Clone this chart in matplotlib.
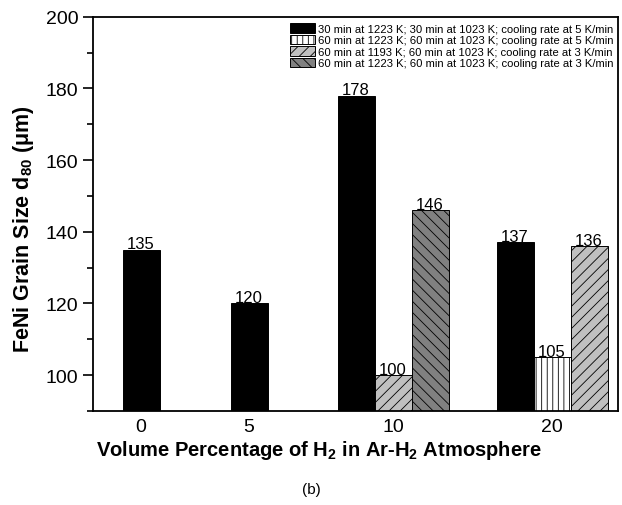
import matplotlib
matplotlib.use('Agg')
import matplotlib.pyplot as plt
from matplotlib.ticker import MultipleLocator

plt.rcParams['font.family'] = ['Liberation Sans', 'DejaVu Sans']
plt.rcParams['mathtext.default'] = 'regular'
plt.rcParams['hatch.linewidth'] = 0.6

# data
categories = ['0', '5', '10', '20']
series_labels = [
    "30 min at 1223 K; 30 min at 1023 K; cooling rate at 5 K/min",
    "60 min at 1223 K; 60 min at 1023 K; cooling rate at 5 K/min",
    "60 min at 1193 K; 60 min at 1023 K; cooling rate at 3 K/min",
    "60 min at 1223 K; 60 min at 1023 K; cooling rate at 3 K/min",
]
# one list per series, None where no bar
s1 = [135, 120, 178, 137]
s2 = [None, None, None, 105]
s3 = [None, None, 100, 136]
s4 = [None, None, 146, None]

# styles
colors = ['black', 'white', '#c0c0c0', '#808080']
hatches = ['', '|||', '///', '\\\\\\']

# layout: tick centres (bar width = 1) and in-group offsets
tick_pos = [0, 2.92, 6.81, 11.11]
offsets = {0: [0, 0, 0, 0], 1: [0, 0, 0, 0], 2: [-1, 0, 0, 1], 3: [-1, 0, 1, 0]}

fig = plt.figure(figsize=(6.22, 5.06), dpi=100)
ax = fig.add_axes([0.1495, 0.186, 0.844, 0.779])

all_series = [s1, s2, s3, s4]
handles = []
for k, s in enumerate(all_series):
    xs, ys = [], []
    for i, v in enumerate(s):
        if v is None:
            continue
        xs.append(tick_pos[i] + offsets[i][k])
        ys.append(v)
    bars = ax.bar(xs, ys, width=1.0, color=colors[k], hatch=hatches[k],
                  edgecolor='black', linewidth=0.7, label=series_labels[k])
    handles.append(bars)
    for x, y in zip(xs, ys):
        ax.text(x, y - 0.5, str(y), ha='center', va='bottom', fontsize=12)

ax.set_xlim(-1.30, 12.89)
ax.set_ylim(90, 200)
ax.set_xticks(tick_pos)
ax.set_xticklabels(categories)
ax.yaxis.set_major_locator(MultipleLocator(20))
ax.yaxis.set_minor_locator(MultipleLocator(10))
ax.tick_params(axis='y', which='major', direction='out', length=7, width=1.2, labelsize=14)
ax.tick_params(axis='y', which='minor', direction='out', length=4, width=1.2)
ax.tick_params(axis='x', length=0, labelsize=14, pad=5)
for sp in ax.spines.values():
    sp.set_linewidth(1.3)

ax.set_ylabel(r'FeNi Grain Size d$_{80}$ ($\mathregular{\mu}$m)', fontsize=15.5,
              fontweight='bold')
ax.set_xlabel(r'Volume Percentage of H$_2$ in Ar-H$_2$ Atmosphere', fontsize=14.5,
              fontweight='bold')
ax.xaxis.set_label_coords(0.43, -0.068)
ax.yaxis.set_label_coords(-0.108, 0.464)

leg = ax.legend(handles=handles, loc='upper right', bbox_to_anchor=(1.005, 1.0),
                frameon=False, fontsize=8.1, handlelength=2.2, handleheight=0.9,
                handletextpad=0.3, labelspacing=0.08, borderaxespad=0.2)

fig.text(0.5, 0.032, '(b)', ha='center', va='center', fontsize=11)

fig.savefig('out.png', dpi=100)
